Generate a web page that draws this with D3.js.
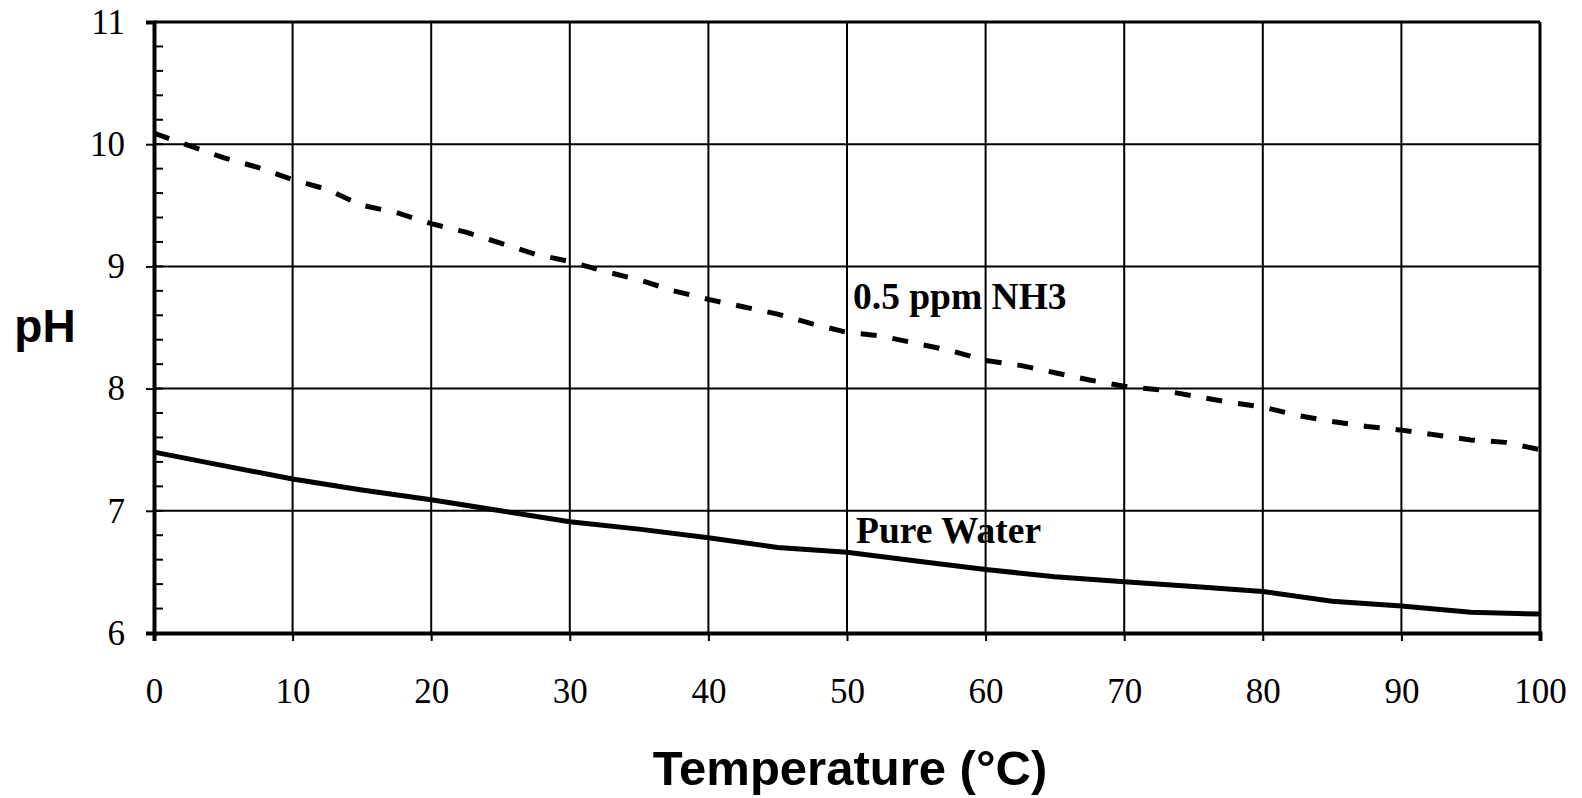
<!DOCTYPE html>
<html>
<head>
<meta charset="utf-8">
<script src="https://cdn.jsdelivr.net/npm/d3@7"></script>
<style>
  body { margin: 0; background: #fff; }
  svg { display: block; }
</style>
</head>
<body>
<svg id="chart" width="1582" height="798"></svg>
<script>
// temperatures (deg C) and pH readings
var nh3Temps = [0, 2.5, 5, 7.5, 10, 12.5, 15, 17.5, 20, 22.5, 25, 27.5, 30, 32.5, 35, 37.5, 40, 42.5, 45, 47.5, 50,
                52.5, 55, 57.5, 60, 62.5, 65, 67.5, 70, 72.5, 75, 77.5, 80, 82.5, 85, 87.5, 90, 92.5, 95, 97.5, 100];
var nh3PH = [10.09, 9.99, 9.89, 9.81, 9.71, 9.63, 9.50, 9.44, 9.35, 9.28, 9.19, 9.10, 9.04, 8.96, 8.89, 8.80, 8.73,
             8.67, 8.61, 8.53, 8.46, 8.43, 8.37, 8.31, 8.23, 8.19, 8.13, 8.07, 8.02, 7.99, 7.94, 7.89, 7.85, 7.78,
             7.73, 7.69, 7.66, 7.62, 7.58, 7.56, 7.50];

var waterTemps = [0, 5, 10, 15, 20, 25, 30, 35, 40, 45, 50, 55, 60, 65, 70, 75, 80, 85, 90, 95, 100];
var waterPH = [7.48, 7.37, 7.26, 7.17, 7.09, 7.00, 6.91, 6.85, 6.78, 6.70, 6.66, 6.59, 6.52, 6.46, 6.42, 6.38,
               6.34, 6.26, 6.22, 6.17, 6.155];

var xTicks = [0, 10, 20, 30, 40, 50, 60, 70, 80, 90, 100];
var yTicks = [6, 7, 8, 9, 10, 11];
var yMinor = d3.range(6, 11.001, 0.2);

var labels = { nh3: "0.5 ppm NH3", water: "Pure Water", x: "Temperature (°C)", y: "pH" };

(function () {
    var svg = d3.select("#chart");

    var plotLeft = 154, plotRight = 1540, plotTop = 22, plotBottom = 633;
    var x = d3.scaleLinear().domain([0, 100]).range([plotLeft, plotRight]);
    var y = d3.scaleLinear().domain([6, 11]).range([plotBottom, plotTop]);

    var serif = "'Liberation Serif', 'Times New Roman', serif";
    var sans = "'Liberation Sans', Arial, sans-serif";

    // grid
    svg.append("g").selectAll("line").data(xTicks.slice(1, -1)).enter().append("line")
        .attr("x1", function (d) { return x(d); }).attr("x2", function (d) { return x(d); })
        .attr("y1", plotTop).attr("y2", plotBottom)
        .style("stroke", "#000").style("stroke-width", 2);
    svg.append("g").selectAll("line").data(yTicks.slice(1, -1)).enter().append("line")
        .attr("x1", plotLeft).attr("x2", plotRight)
        .attr("y1", function (d) { return y(d); }).attr("y2", function (d) { return y(d); })
        .style("stroke", "#000").style("stroke-width", 2);

    // frame top / right
    svg.append("line").attr("x1", plotLeft).attr("x2", plotRight).attr("y1", plotTop).attr("y2", plotTop)
        .style("stroke", "#000").style("stroke-width", 3);
    svg.append("line").attr("x1", plotRight).attr("x2", plotRight).attr("y1", plotTop).attr("y2", plotBottom)
        .style("stroke", "#000").style("stroke-width", 3);

    // minor ticks on y, pointing inside
    svg.append("g").selectAll("line").data(yMinor).enter().append("line")
        .attr("x1", plotLeft).attr("x2", plotLeft + 9)
        .attr("y1", function (d) { return y(d); }).attr("y2", function (d) { return y(d); })
        .style("stroke", "#000").style("stroke-width", 2);

    // axes
    var yAxis = svg.append("g").attr("transform", "translate(" + plotLeft + ",0)")
        .call(d3.axisLeft(y).tickValues(yTicks).tickSize(8).tickPadding(21).tickFormat(d3.format("d")));
    var xAxis = svg.append("g").attr("transform", "translate(0," + plotBottom + ")")
        .call(d3.axisBottom(x).tickValues(xTicks).tickSize(8).tickPadding(62).tickFormat(d3.format("d")));

    [yAxis, xAxis].forEach(function (ax) {
        ax.select(".domain").style("stroke", "#000").style("stroke-width", 4);
        ax.selectAll(".tick line").style("stroke", "#000").style("stroke-width", 2);
        ax.selectAll(".tick text").style("font-family", serif)
            .style("font-size", "35px").style("fill", "#000");
    });
    // baseline for x labels rather than hanging
    xAxis.selectAll(".tick text").attr("dy", "0");

    // series
    var line = d3.line()
        .x(function (d) { return x(d[0]); })
        .y(function (d) { return y(d[1]); });

    svg.append("path")
        .datum(d3.zip(waterTemps, waterPH))
        .attr("d", line)
        .style("fill", "none").style("stroke", "#000").style("stroke-width", 5);

    svg.append("path")
        .datum(d3.zip(nh3Temps, nh3PH))
        .attr("d", line)
        .style("fill", "none").style("stroke", "#000").style("stroke-width", 5)
        .style("stroke-dasharray", "16,16");

    // annotations
    svg.append("text").attr("x", 853).attr("y", 309).text(labels.nh3)
        .style("font-family", serif).style("font-weight", "bold").style("font-size", "37.5px");
    svg.append("text").attr("x", 856).attr("y", 543).text(labels.water)
        .style("font-family", serif).style("font-weight", "bold").style("font-size", "37.5px");

    // axis titles
    svg.append("text").attr("x", 45).attr("y", 342).attr("text-anchor", "middle").text(labels.y)
        .style("font-family", sans).style("font-weight", "bold").style("font-size", "46px");
    svg.append("text").attr("x", 850).attr("y", 785).attr("text-anchor", "middle").text(labels.x)
        .style("font-family", sans).style("font-weight", "bold").style("font-size", "49px");
})();
</script>
</body>
</html>
